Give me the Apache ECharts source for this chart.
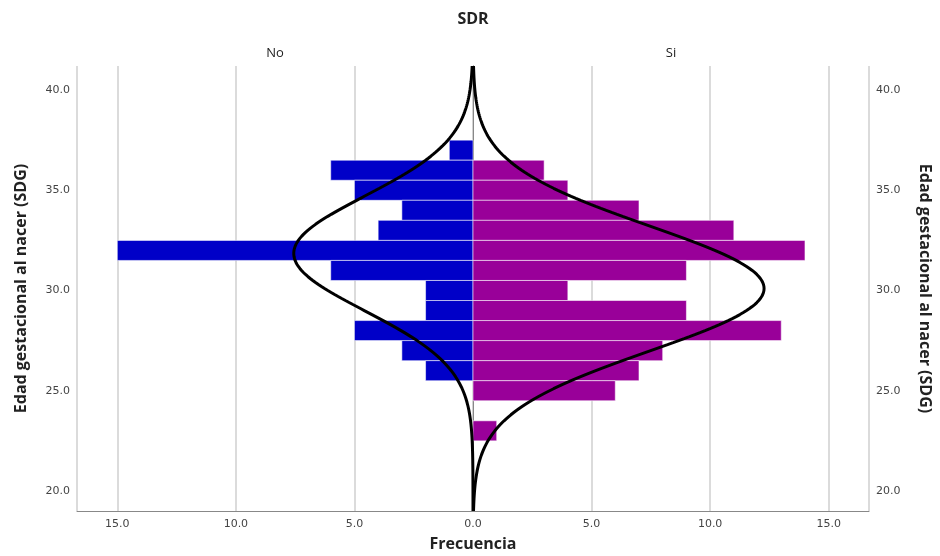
<!DOCTYPE html>
<html>
<head>
<meta charset="utf-8">
<script src="https://cdn.jsdelivr.net/npm/echarts@6/dist/echarts.min.js"></script>
<style>
  html, body { margin: 0; padding: 0; background: #fff; }
  #chart { width: 940px; height: 556px; }
</style>
</head>
<body>
<div id="chart"></div>
<script>
// bins (weeks), centred on whole numbers
const ages = [37, 36, 35, 34, 33, 32, 31, 30, 29, 28, 27, 26, 25, 24, 23]
const noCounts = [1, 6, 5, 3, 4, 15, 6, 2, 2, 5, 3, 2, 0, 0, 0]
const siCounts = [0, 3, 4, 7, 11, 14, 9, 4, 9, 13, 8, 7, 6, 0, 1]

// normal curve parameters
const noFit = { n: 54, mean: 31.85, sd: 2.85 }
const siFit = { n: 96, mean: 30.1, sd: 3.12 }

const yTicks = [20, 25, 30, 35, 40]
const xTicks = [0, 5, 10, 15]

const yMin = 19, yMax = 41.2, xMax = 16.7

function curve(fit) {
  const pts = []
  for (let i = 0; i <= 222; i++) {
    const y = yMin + i * 0.1
    const z = (y - fit.mean) / fit.sd
    pts.push([fit.n / (fit.sd * Math.sqrt(2 * Math.PI)) * Math.exp(-z * z / 2), y])
  }
  return pts
}

function bars(counts) {
  return ages.map((a, i) => [counts[i], a])
}

function rectRender(color) {
  return function (params, api) {
    const count = api.value(0), age = api.value(1)
    if (!count) return
    const p0 = api.coord([0, age + 0.5])
    const p1 = api.coord([count, age - 0.5])
    return {
      type: 'rect',
      shape: {
        x: Math.min(p0[0], p1[0]),
        y: p0[1],
        width: Math.abs(p1[0] - p0[0]),
        height: p1[1] - p0[1]
      },
      style: { fill: color, stroke: 'rgba(255,255,255,0.55)', lineWidth: 1 }
    }
  }
}

const labelFont = { fontFamily: 'DejaVu Sans', fontSize: 11, color: '#444' }
const nameFont = { fontFamily: 'Open Sans', fontSize: 16, fontWeight: 'bold', color: '#222' }

function xAxis(grid, inverse, hideZero) {
  return {
    type: 'value', gridIndex: grid, min: 0, max: xMax, interval: 5, inverse: inverse,
    axisLine: { show: true, lineStyle: { color: '#888', width: 1 } },
    axisTick: { show: false },
    axisLabel: Object.assign({
      margin: 8,
      formatter: v => (xTicks.indexOf(v) >= 0 && !(hideZero && v === 0)) ? v.toFixed(1) : ''
    }, labelFont),
    splitLine: { show: true, lineStyle: { color: '#cfcfcf', width: 1.5 } }
  }
}

function yAxis(grid, pos, rot) {
  return {
    type: 'value', gridIndex: grid, position: pos, min: yMin, max: yMax, interval: 1,
    name: 'Edad gestacional al nacer (SDG)', nameLocation: 'middle', nameGap: 48, nameRotate: rot,
    nameTextStyle: nameFont,
    axisLine: { show: true, lineStyle: { color: '#888', width: 1 } },
    axisTick: { show: false },
    axisLabel: Object.assign({
      margin: 7,
      formatter: v => yTicks.indexOf(v) >= 0 ? v.toFixed(1) : ''
    }, labelFont),
    splitLine: { show: false }
  }
}

const chart = echarts.init(document.getElementById('chart'))

chart.setOption({
  animation: false,
  backgroundColor: '#fff',
  grid: [
    { left: 77, top: 66, width: 396, height: 445 },
    { left: 473, top: 66, width: 396, height: 445 }
  ],
  xAxis: [xAxis(0, true, true), xAxis(1, false, false)],
  yAxis: [yAxis(0, 'left', 90), yAxis(1, 'right', -90)],
  graphic: [
    { type: 'text', x: 473, y: 19, style: { text: 'SDR', font: 'bold 16px "Open Sans"', fill: '#222', align: 'center', verticalAlign: 'middle' } },
    { type: 'text', x: 275, y: 53, style: { text: 'No', font: '13px "Open Sans"', fill: '#222', align: 'center', verticalAlign: 'middle' } },
    { type: 'text', x: 671, y: 53, style: { text: 'Si', font: '13px "Open Sans"', fill: '#222', align: 'center', verticalAlign: 'middle' } },
    { type: 'text', x: 473, y: 544, style: { text: 'Frecuencia', font: 'bold 16px "Open Sans"', fill: '#222', align: 'center', verticalAlign: 'middle' } }
  ],
  series: [
    {
      type: 'custom', xAxisIndex: 0, yAxisIndex: 0,
      renderItem: rectRender('#0000c8'),
      encode: { x: 0, y: 1 },
      data: bars(noCounts)
    },
    {
      type: 'custom', xAxisIndex: 1, yAxisIndex: 1,
      renderItem: rectRender('#990099'),
      encode: { x: 0, y: 1 },
      data: bars(siCounts)
    },
    {
      type: 'line', xAxisIndex: 0, yAxisIndex: 0, showSymbol: false, z: 5,
      lineStyle: { color: '#000', width: 3 },
      data: curve(noFit)
    },
    {
      type: 'line', xAxisIndex: 1, yAxisIndex: 1, showSymbol: false, z: 5,
      lineStyle: { color: '#000', width: 3 },
      data: curve(siFit)
    }
  ]
})
</script>
</body>
</html>
